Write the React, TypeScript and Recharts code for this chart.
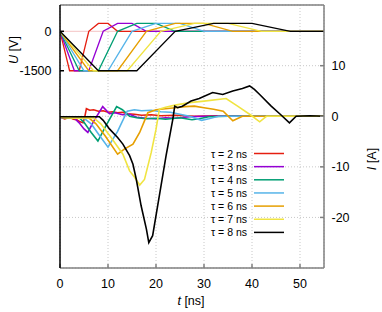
import React from "react";
import {
  ComposedChart,
  Line,
  XAxis,
  YAxis,
  CartesianGrid,
  ReferenceLine,
  Customized,
} from "recharts";

const taus = [2, 3, 4, 5, 6, 7, 8];
const colors = ["#e51e10", "#9400d3", "#009e73", "#56b4e9", "#e69f00", "#f0e442", "#000000"];
const xTicks = [0, 10, 20, 30, 40, 50];
const uTicks = [0, -1500];
const iTicks = [10, 0, -10, -20];

// applied voltage, same levels for each pulse, read at the corners
const uLevels = [0, -1500, -1500, 0, 300, 300, 0, 0];
const uT2 = [0, 2, 4, 6, 8, 10, 12, 55];
const uT3 = [0, 3, 6, 9, 12, 15, 18, 55];
const uT4 = [0, 4, 8, 12, 16, 20, 24, 55];
const uT5 = [0, 5, 10, 15, 20, 25, 30, 55];
const uT6 = [0, 6, 12, 18, 24, 30, 36, 55];
const uT7 = [0, 7, 14, 21, 28, 35, 42, 55];
const uT8 = [0, 8, 16, 24, 32, 40, 48, 55];

// measured current
const iT2 = [0, 1, 2, 2.8, 3.5, 4.2, 4.8, 5.1, 5.5, 6.2, 7, 8, 9, 10, 11, 12, 13, 14, 15.5, 17, 19, 21, 24, 28, 33, 40, 55];
const iV2 = [-0.2, -0.5, -0.2, -0.6, -0.7, -1.1, -1.3, -0.4, 1.5, 1.2, 1.3, 1.0, 1.1, 0.8, 0.9, 0.7, 0.8, 0.5, 0.4, 0.2, 0.3, 0.1, 0.2, 0, 0.1, 0, 0];
const iT3 = [0, 1.5, 3, 4, 5, 5.8, 7, 8.9, 10.3, 11.5, 13, 14.5, 16, 18, 20, 22, 24, 27, 30, 35, 55];
const iV3 = [-0.3, -0.1, -0.4, -1.3, -2.5, -3.2, -1.0, 1.9, 0.5, 0.7, 0.3, 0.4, -0.2, -0.4, -0.5, -0.3, -0.4, -0.1, 0, 0, 0];
const iT4 = [0, 2, 4, 5, 6.5, 7.9, 9.5, 11.8, 13, 14.5, 16, 18, 20, 22, 25, 27.5, 29, 31, 35, 55];
const iV4 = [-0.2, -0.4, -0.3, -1.2, -3.2, -4.9, -2.0, 1.9, 1.3, 0, -0.3, -0.5, -0.4, -0.6, -0.3, -0.7, -0.5, -0.1, 0, 0];
const iT5 = [0, 2.5, 5, 6.5, 8, 10, 12, 14, 15.5, 17, 19, 21, 23, 25, 27, 29.5, 31, 33, 55];
const iV5 = [-0.3, -0.1, -0.4, -1.5, -3.5, -6.1, -3.0, 1.0, 1.3, 1.1, 1.2, 0.9, 0.8, 0.4, 0, -0.8, -0.5, 0, 0];
const iT6 = [0, 3, 6, 7.5, 9.5, 12, 13.4, 15.2, 16.6, 17.6, 18.3, 20, 22, 24, 26, 28, 30, 32, 34, 36, 38, 55];
const iV6 = [-0.2, -0.4, -0.3, -1.5, -4.0, -7.5, -6.5, -5.5, -3.2, -0.9, 0.7, 1.3, 1.5, 1.7, 1.9, 2.0, 1.7, 1.4, 1.0, -0.9, 0, 0];
const iT7 = [0, 3.5, 7, 8.5, 10.5, 13.1, 14.5, 15.5, 16.6, 17.6, 19, 20, 20.7, 22, 24, 27, 30, 34.6, 37, 39.8, 41.6, 43, 55];
const iV7 = [-0.2, -0.4, -0.3, -1.5, -4.0, -7.5, -10.8, -12.0, -13.6, -12.5, -7.2, -2.6, 1.4, 1.8, 2.2, 2.7, 3.0, 3.5, 2.0, 0.2, -1.1, 0, 0];
const iT8 = [0, 4, 8.2, 9, 10.3, 12, 13.1, 14.5, 15.2, 15.9, 16.9, 18, 18.5, 19.3, 20.7, 22.1, 23.5, 23.9, 24.5, 25.5, 27.3, 29, 31.8, 33.9, 36, 38, 39.5, 40.5, 41.6, 44, 46, 47.8, 49.2, 52, 55];
const iV8 = [-0.1, -0.1, -0.1, -0.8, -2.5, -4.2, -5.5, -7.8, -9.5, -12.5, -17.7, -22.3, -25.0, -23.6, -15.7, -7.8, -0.6, 2.0, 1.7, 2.0, 3.0, 3.5, 4.7, 4.3, 5.0, 5.5, 6.0, 5.3, 4.3, 2.0, 0.3, -1.3, 0, 0.1, 0];

const uTimes = [uT2, uT3, uT4, uT5, uT6, uT7, uT8];
const iTimes = [iT2, iT3, iT4, iT5, iT6, iT7, iT8];
const iValues = [iV2, iV3, iV4, iV5, iV6, iV7, iV8];

const voltageData = uTimes.map((ts) => ts.map((t, k) => ({ t, v: uLevels[k] })));
const currentData = iTimes.map((ts, n) => ts.map((t, k) => ({ t, v: iValues[n][k] })));

const font = "'Liberation Sans', Arial, sans-serif";

function Extras() {
  return (
    <g fontFamily={font}>
      <text x={14} y={50} transform="rotate(-90 14 50)" textAnchor="middle" dominantBaseline="central" fontSize={12.5}>
        <tspan fontStyle="italic">U</tspan> [V]
      </text>
      <text x={372} y={159} transform="rotate(-90 372 159)" textAnchor="middle" dominantBaseline="central" fontSize={12.5}>
        <tspan fontStyle="italic">I</tspan> [A]
      </text>
      <text x={191} y={301} textAnchor="middle" dominantBaseline="central" fontSize={12.5}>
        <tspan fontStyle="italic">t</tspan> [ns]
      </text>
      {taus.map((tau, n) => (
        <g key={tau}>
          <text x={247} y={153.5 + n * 13.15} textAnchor="end" dominantBaseline="central" fontSize={10.5}>
            {`τ = ${tau} ns`}
          </text>
          <line x1={254} x2={284} y1={153.5 + n * 13.15} y2={153.5 + n * 13.15} stroke={colors[n]} strokeWidth={1.5} />
        </g>
      ))}
    </g>
  );
}

export default function App() {
  return (
    <div style={{ position: "absolute", left: 0, top: 0 }}>
      <ComposedChart width={382} height={312} margin={{ top: 5, right: 0, bottom: 0, left: 0 }}>
        <CartesianGrid yAxisId="I" stroke="#c8c8c8" strokeDasharray="1 2" />
        <XAxis
          type="number"
          dataKey="t"
          domain={[0, 55]}
          ticks={xTicks}
          height={44}
          allowDataOverflow
          stroke="#808080"
          strokeWidth={1.5}
          tickSize={-4}
          tickMargin={15}
          tick={{ fill: "#000", fontSize: 12.5, fontFamily: font }}
        />
        <YAxis
          yAxisId="U"
          type="number"
          domain={[-9000, 1000]}
          ticks={uTicks}
          width={60}
          allowDataOverflow
          stroke="#000"
          strokeWidth={1.5}
          tickSize={-4}
          tickMargin={12.5}
          tick={{ fill: "#000", fontSize: 12.5, fontFamily: font }}
        />
        <YAxis
          yAxisId="I"
          orientation="right"
          type="number"
          domain={[-30, 22]}
          ticks={iTicks}
          width={58}
          allowDataOverflow
          stroke="#808080"
          strokeWidth={1.5}
          tickSize={-4}
          tickMargin={11.5}
          tick={{ fill: "#000", fontSize: 12.5, fontFamily: font }}
        />
        <ReferenceLine yAxisId="U" y={1000} stroke="#808080" strokeWidth={1.5} />
        <ReferenceLine yAxisId="U" y={0} stroke="#f4c4c4" strokeWidth={1} />
        {voltageData.map((d, n) => (
          <Line
            key={`u${n}`}
            yAxisId="U"
            data={d}
            dataKey="v"
            type="linear"
            stroke={colors[n]}
            strokeWidth={1.3}
            dot={false}
            isAnimationActive={false}
          />
        ))}
        {currentData.map((d, n) => (
          <Line
            key={`i${n}`}
            yAxisId="I"
            data={d}
            dataKey="v"
            type="linear"
            stroke={colors[n]}
            strokeWidth={1.6}
            dot={false}
            isAnimationActive={false}
          />
        ))}
        <Customized component={Extras} />
      </ComposedChart>
    </div>
  );
}
